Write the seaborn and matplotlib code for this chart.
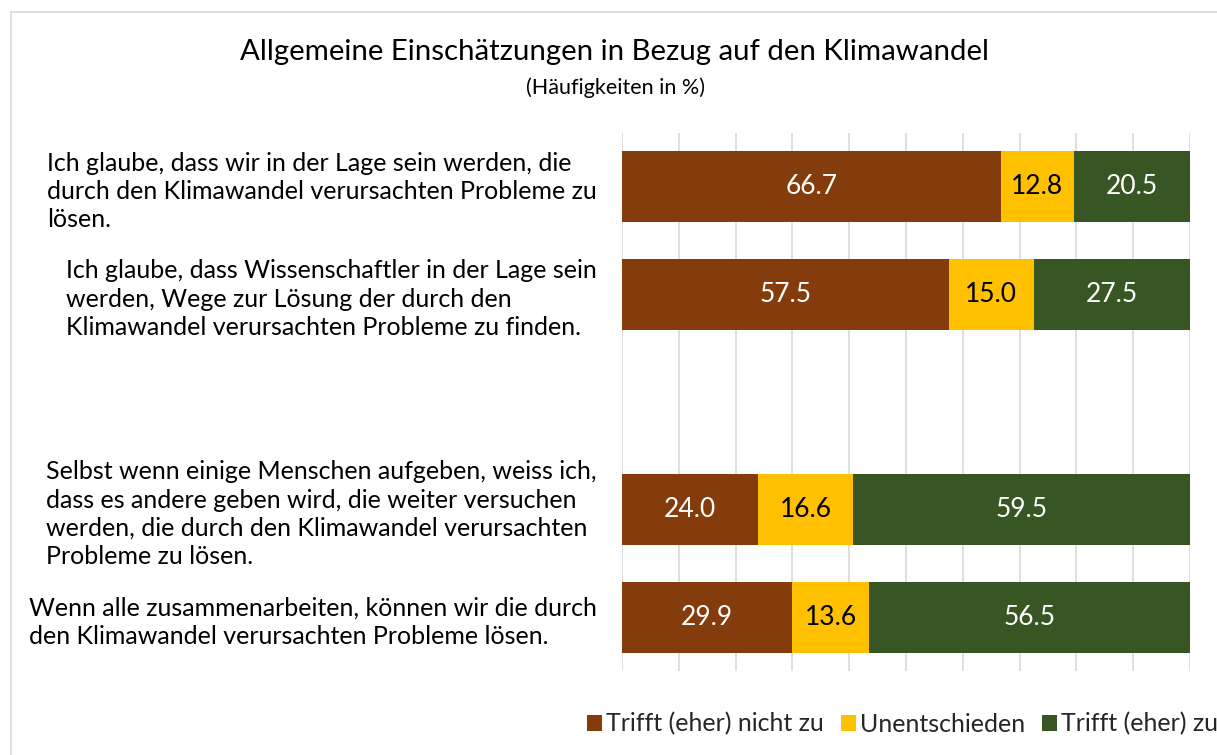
import numpy as np
import pandas as pd
import seaborn as sns
import matplotlib
matplotlib.use("Agg")
import matplotlib.pyplot as plt
from matplotlib.patches import Rectangle, Patch

categories = [
    "Ich glaube, dass wir in der Lage sein werden, die\ndurch den Klimawandel verursachten Probleme zu\nlösen.",
    "Ich glaube, dass Wissenschaftler in der Lage sein\nwerden, Wege zur Lösung der durch den\nKlimawandel verursachten Probleme zu finden.",
    " ",
    "Selbst wenn einige Menschen aufgeben, weiss ich,\ndass es andere geben wird, die weiter versuchen\nwerden, die durch den Klimawandel verursachten\nProbleme zu lösen.",
    "Wenn alle zusammenarbeiten, können wir die durch\nden Klimawandel verursachten Probleme lösen.",
]
series_names = ["Trifft (eher) nicht zu", "Unentschieden", "Trifft (eher) zu"]
nicht_zu = [66.7, 57.5, np.nan, 24.0, 29.9]
unentschieden = [12.8, 15.0, np.nan, 16.6, 13.6]
zu = [20.5, 27.5, np.nan, 59.5, 56.5]
colors = ["#843C0C", "#FFC000", "#375623"]
label_colors = ["white", "black", "white"]
title = "Allgemeine Einschätzungen in Bezug auf den Klimawandel"
subtitle = "(Häufigkeiten in %)"

sns.set_theme(style="white")
plt.rcParams["font.family"] = ["Lato", "DejaVu Sans"]

df = pd.DataFrame({"cat": categories, series_names[0]: nicht_zu,
                   series_names[1]: unentschieden, series_names[2]: zu})
vals = df[series_names].to_numpy()
cum = np.nancumsum(vals, axis=1)
cum[np.isnan(vals)] = np.nan

W, H = 1217, 755
fig = plt.figure(figsize=(W / 100, H / 100), dpi=100)
fig.patches.append(Rectangle((11 / W, -0.1), 1.2, 1 - 12 / H + 0.1, transform=fig.transFigure,
                             fill=False, edgecolor="#D9D9D9", linewidth=1.2))
ax = fig.add_axes([622 / W, 1 - 671 / H, 568 / W, 538 / H])

for i in reversed(range(3)):
    sns.barplot(x=cum[:, i], y=df["cat"], order=categories, orient="h", color=colors[i],
                width=0.66, saturation=1, ax=ax, linewidth=0, errorbar=None)

for r in range(len(categories)):
    for i in range(3):
        v = vals[r, i]
        if np.isnan(v):
            continue
        center = cum[r, i] - v / 2
        ax.text(center, r, f"{v:.1f}", ha="center", va="center", color=label_colors[i], fontsize=19)

ax.set_xlim(0, 100)
ax.set_ylim(len(categories) - 0.5, -0.5)
ax.set_xticks(np.arange(0, 101, 10))
ax.set_xticklabels([])
ax.grid(axis="x", color="#D9D9D9", linewidth=1.2)
ax.set_axisbelow(True)
for s in ax.spines.values():
    s.set_visible(False)
ax.set_xlabel("")
ax.set_ylabel("")
ax.tick_params(axis="y", length=0, pad=18, labelsize=18.0)
ax.tick_params(axis="x", length=0)
for t in ax.get_yticklabels():
    t.set_multialignment("left")
    t.set_linespacing(1.28)
    t.set_color("black")

fig.text(615 / W, 1 - 52 / H, title, ha="center", va="center", fontsize=21.2, color="black")
fig.text(615 / W, 1 - 88 / H, subtitle, ha="center", va="center", fontsize=15.5, color="black")

handles = [Patch(facecolor=c, edgecolor="none") for c in colors]
fig.legend(handles, series_names, loc="center left", bbox_to_anchor=(587 / W, 1 - 724 / H),
           ncol=3, frameon=False, fontsize=18, handlelength=0.6, handleheight=0.6,
           handletextpad=0.15, columnspacing=0.7, borderpad=0, borderaxespad=0)

fig.savefig("out.png", dpi=100)
